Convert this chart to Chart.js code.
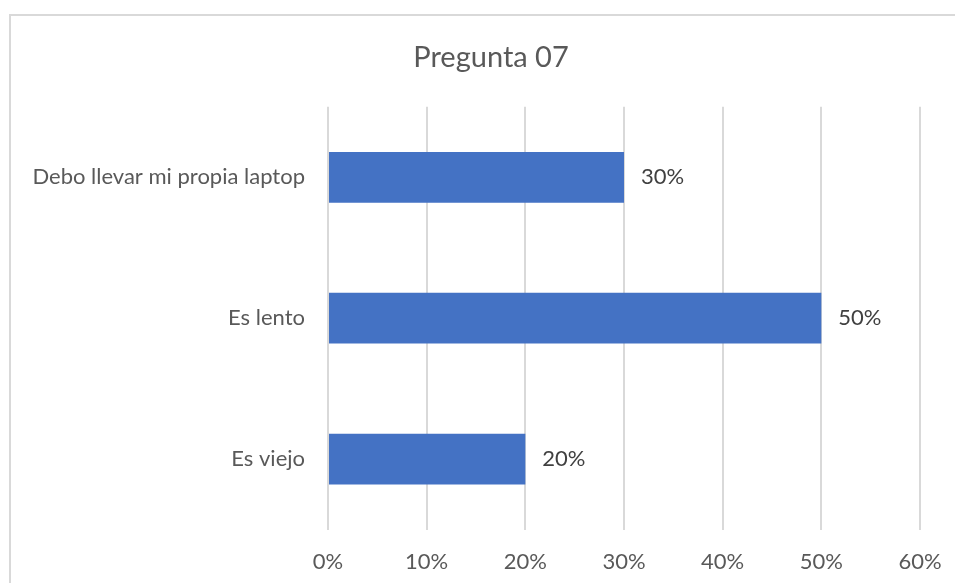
<!DOCTYPE html>
<html>
<head>
<meta charset="utf-8">
<script src="https://cdn.jsdelivr.net/npm/chart.js@4"></script>
<style>
  html, body { margin: 0; padding: 0; background: #fff; overflow: hidden; }
  .frame {
    position: absolute;
    left: 9px;
    top: 14px;
    width: 960px;
    height: 600px;
    border: 2px solid #d9d9d9;
  }
</style>
</head>
<body>
<div class="frame">
  <canvas id="chart" width="960" height="600"></canvas>
</div>
<script>
// Chart title and categories
const chartTitle = 'Pregunta 07';
const categories = ['Debo llevar mi propia laptop', 'Es lento', 'Es viejo'];

// Percentages per answer
const values = [30, 50, 20];

// Axis range
const axisMax = 60;
const axisStep = 10;

const fontFamily = 'Lato, "Open Sans", sans-serif';

// Draw the value labels next to each bar
const barLabels = {
  id: 'barLabels',
  afterDatasetsDraw(chart) {
    const ctx = chart.ctx;
    const meta = chart.getDatasetMeta(0);
    ctx.save();
    ctx.font = '22px ' + fontFamily;
    ctx.fillStyle = '#404040';
    ctx.textAlign = 'left';
    ctx.textBaseline = 'middle';
    meta.data.forEach((bar, i) => {
      ctx.fillText(values[i] + '%', bar.x + 17, bar.y);
    });
    ctx.restore();
  }
};

// Let the title span the whole canvas so it sits centred in the frame
const wideTitle = {
  id: 'wideTitle',
  afterLayout(chart) {
    const t = chart.titleBlock;
    if (t) {
      t.left = 0;
      t.right = chart.width;
      t.width = chart.width;
    }
  }
};

new Chart(document.getElementById('chart'), {
  type: 'bar',
  data: {
    labels: categories,
    datasets: [{
      data: values,
      backgroundColor: '#4472c4',
      barPercentage: 0.36,
      categoryPercentage: 1
    }]
  },
  options: {
    indexAxis: 'y',
    responsive: false,
    animation: false,
    layout: { padding: { left: 0, right: 51, top: 0, bottom: 22 } },
    plugins: {
      legend: { display: false },
      tooltip: { enabled: false },
      title: {
        display: true,
        text: chartTitle,
        color: '#595959',
        font: { family: fontFamily, size: 29, weight: 'normal' },
        padding: { top: 24, bottom: 32 }
      }
    },
    scales: {
      x: {
        min: 0,
        max: axisMax,
        ticks: {
          stepSize: axisStep,
          color: '#595959',
          font: { family: fontFamily, size: 22 },
          padding: 19,
          callback: (v) => v + '%'
        },
        grid: { color: '#d9d9d9', lineWidth: 2, drawTicks: false },
        border: { display: false }
      },
      y: {
        ticks: {
          color: '#595959',
          font: { family: fontFamily, size: 22 },
          padding: 23
        },
        grid: { display: false, drawTicks: false },
        border: { display: false },
        afterFit(scale) { scale.width = 317; }
      }
    }
  },
  plugins: [barLabels, wideTitle]
});
</script>
</body>
</html>
